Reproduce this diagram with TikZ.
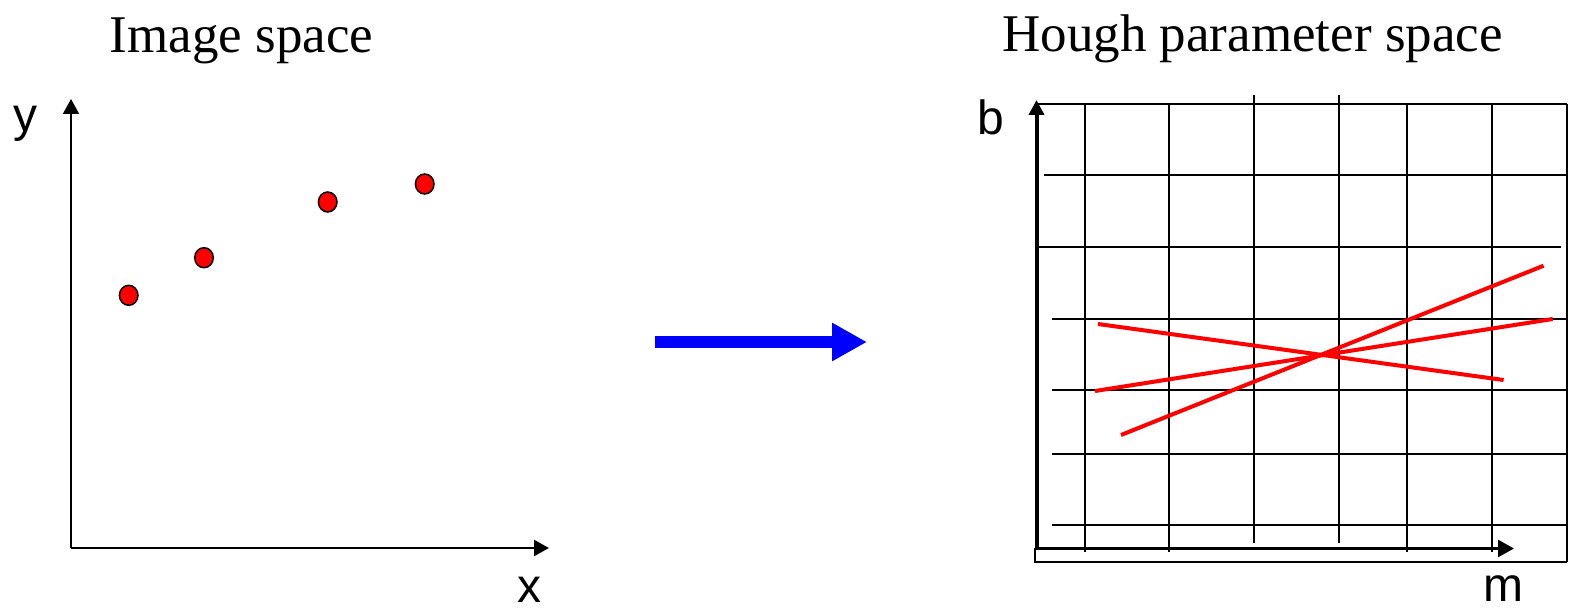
\documentclass[tikz,border=0pt]{standalone}
\usepackage{fontspec}
\setmainfont{Liberation Serif}
\newfontfamily\labfont{Liberation Sans}
\usetikzlibrary{arrows.meta}
\tikzset{
  titletext/.style={font=\fontsize{53}{60}\selectfont, anchor=base, inner sep=0pt},
  axlabel/.style={font=\labfont\fontsize{48}{54}\selectfont, anchor=base, inner sep=0pt, text depth=0pt},
  axisline/.style={line width=2.2pt, -{Triangle[length=15pt,width=16pt]}},
  gridline/.style={line width=2pt},
  houghline/.style={red, line width=4pt},
  pointdot/.style={fill=red, draw=black, line width=1.5pt},
  maparrow/.style={blue, line width=12pt, -{Triangle[length=35pt,width=36pt]}}
}
\begin{document}
\begin{tikzpicture}[x=1pt,y=-1pt]
\useasboundingbox (0,0) rectangle (1570,612);
% titles
\node[titletext] (t1) at (241.5,53) {Image space};
\node[titletext] (t2) at (1252.5,52) {Hough parameter space};
% image space axes
\coordinate (o1) at (71,548);
\coordinate (ytip) at (71,99);
\coordinate (xtip) at (549,548);
\draw[axisline] (o1) -- (ytip);
\draw[axisline] (o1) -- (xtip);
\node[axlabel] (ylab) at (25,132) {y};
\node[axlabel] (xlab) at (529,602) {x};
% points
\draw[pointdot] (128.7,295.3) ellipse (9.3 and 10);
\draw[pointdot] (204,257.7) ellipse (9.3 and 10);
\draw[pointdot] (327.7,202) ellipse (9.3 and 10);
\draw[pointdot] (424.7,184) ellipse (9.3 and 10);
% blue mapping arrow
\coordinate (a1) at (655,342);
\coordinate (a2) at (867,342);
\draw[maparrow] (a1) -- (a2);
% Hough grid
\draw[gridline] (1036,104) -- (1567,104);
\draw[gridline] (1044,175) -- (1567,175);
\draw[gridline] (1036,247) -- (1561,247);
\draw[gridline] (1052,319) -- (1567,319);
\draw[gridline] (1052,390) -- (1567,390);
\draw[gridline] (1052,454) -- (1567,454);
\draw[gridline] (1052,525) -- (1567,525);
\draw[gridline] (1084.5,104) -- (1084.5,552);
\draw[gridline] (1169,104) -- (1169,552);
\draw[gridline] (1254,95) -- (1254,543);
\draw[gridline] (1339,95) -- (1339,543);
\draw[gridline] (1407,104) -- (1407,552);
\draw[gridline] (1491.5,104) -- (1491.5,552);
\draw[gridline] (1567,104) -- (1567,561.5);
\draw[gridline] (1035,548) -- (1035,561.5) -- (1567,561.5);
% Hough axes
\coordinate (o2) at (1036,548.5);
\coordinate (btip) at (1036.5,100);
\coordinate (mtip) at (1514,548.5);
\draw[line width=4pt, -{Triangle[length=15pt,width=15pt]}] (1036.5,548.5) -- (btip);
\draw[line width=2.5pt, -{Triangle[length=16pt,width=17pt]}] (o2) -- (mtip);
\node[axlabel] (blab) at (990.5,135) {b};
\node[axlabel] (mlab) at (1503.5,601) {m};
% Hough lines
\draw[houghline] (1098,324) -- (1503.6,380);
\draw[houghline] (1095,391) -- (1552.7,319);
\draw[houghline] (1121,435) -- (1543.6,265.7);
\end{tikzpicture}
\end{document}
